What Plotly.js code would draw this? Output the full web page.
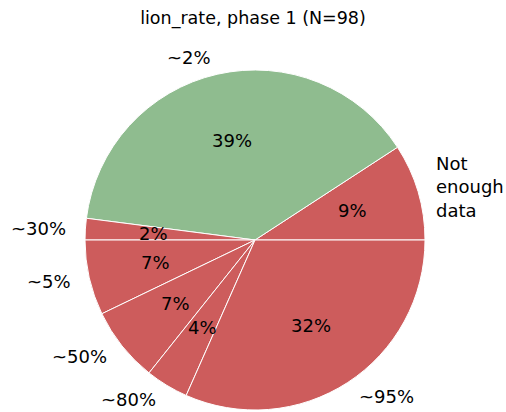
<!DOCTYPE html>
<html>
<head>
<meta charset="utf-8">
<script src="https://cdn.plot.ly/plotly-3.0.1.min.js"></script>
<style>html,body{margin:0;padding:0;background:#fff;}#chart{width:506px;height:412px;}</style>
</head>
<body>
<div id="chart"></div>
<script>
const categories = ["Not enough data", "~2%", "~30%", "~5%", "~50%", "~80%", "~95%"];
const labelText = ["Not<br>enough<br>data", "~2%", "~30%", "~5%", "~50%", "~80%", "~95%"];
const counts = [9, 38, 2, 7, 7, 4, 31];
const colors = ["#CD5C5C", "#8FBC8F", "#CD5C5C", "#CD5C5C", "#CD5C5C", "#CD5C5C", "#CD5C5C"];
const titleText = "lion_rate, phase 1 (N=98)";

const W = 506, H = 412;
const cxPx = 255, cyPx = 240, rPx = 170;
const domX = [(cxPx - rPx) / W, (cxPx + rPx) / W];
const domY = [(H - cyPx - rPx) / H, (H - cyPx + rPx) / H];
const cx = (domX[0] + domX[1]) / 2, cy = (domY[0] + domY[1]) / 2;
const rx = rPx / W, ry = rPx / H;

const total = counts.reduce((a, b) => a + b, 0);
const annotations = [];
let cum = 0;
const fnt = {family: "DejaVu Sans", size: 18, color: "#000"};
counts.forEach((v, i) => {
  const mid = 2 * Math.PI * (cum + v / 2) / total;
  cum += v;
  const c = Math.cos(mid), s = Math.sin(mid);
  annotations.push({
    xref: "paper", yref: "paper", x: cx + 1.1 * rx * c, y: cy + 1.1 * ry * s,
    text: labelText[i], showarrow: false, xanchor: c > 0 ? "left" : "right", yanchor: "middle",
    align: "left", font: fnt
  });
  annotations.push({
    xref: "paper", yref: "paper", x: cx + 0.6 * rx * c, y: cy + 0.6 * ry * s,
    text: Math.round(100 * v / total) + "%", showarrow: false, xanchor: "center", yanchor: "middle",
    font: fnt
  });
});

const data = [{
  type: "pie",
  labels: categories,
  values: counts,
  sort: false,
  direction: "counterclockwise",
  rotation: 90 - 360 * counts[0] / total,
  textinfo: "none",
  hoverinfo: "none",
  marker: {colors: colors, line: {color: "#ffffff", width: 1}},
  domain: {x: domX, y: domY},
  showlegend: false
}];

const layout = {
  width: W, height: H,
  margin: {l: 0, r: 0, t: 0, b: 0},
  paper_bgcolor: "#fff",
  showlegend: false,
  title: {text: titleText, x: 0.5, xanchor: "center", y: 1 - 18 / H, yanchor: "middle", font: {family: "DejaVu Sans", size: 17.5, color: "#000"}},
  annotations: annotations
};

Plotly.newPlot("chart", data, layout, {displayModeBar: false, staticPlot: true});
</script>
</body>
</html>
